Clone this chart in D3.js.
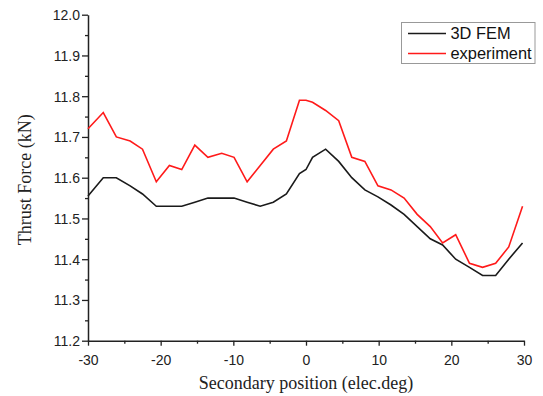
<!DOCTYPE html>
<html><head><meta charset="utf-8">
<script src="https://cdn.jsdelivr.net/npm/d3@7"></script>
<style>body{margin:0;background:#fff}svg{display:block}</style>
</head><body>
<svg id="c" width="543" height="396"></svg>
<script>
const positions = [-30, -27.9, -26.1, -24.2, -22.5, -20.6, -18.8, -17.1, -15.3, -13.5, -11.6, -9.9, -8.1, -6.3, -4.5, -2.7, -0.9, 0, 0.9, 2.7, 4.5, 6.3, 8.1, 9.9, 11.7, 13.5, 15.3, 17.1, 18.8, 20.6, 22.5, 24.3, 26.1, 27.9, 29.8];
const femValues = [11.555, 11.60, 11.60, 11.58, 11.56, 11.53, 11.53, 11.53, 11.54, 11.55, 11.55, 11.55, 11.54, 11.53, 11.54, 11.56, 11.61, 11.62, 11.65, 11.67, 11.64, 11.60, 11.57, 11.553, 11.533, 11.51, 11.48, 11.45, 11.435, 11.40, 11.38, 11.36, 11.36, 11.40, 11.44];
const expValues = [11.72, 11.76, 11.70, 11.69, 11.67, 11.59, 11.63, 11.62, 11.68, 11.65, 11.66, 11.65, 11.59, 11.63, 11.67, 11.69, 11.79, 11.79, 11.785, 11.765, 11.74, 11.65, 11.64, 11.58, 11.57, 11.55, 11.51, 11.48, 11.44, 11.46, 11.39, 11.38, 11.39, 11.43, 11.53];
const xTicks = [-30, -20, -10, 0, 10, 20, 30];
const xTickLabels = ["-30", "-20", "-10", "0", "10", "20", "30"];
const yTicks = [11.2, 11.3, 11.4, 11.5, 11.6, 11.7, 11.8, 11.9, 12.0];
const yTickLabels = ["11.2", "11.3", "11.4", "11.5", "11.6", "11.7", "11.8", "11.9", "12.0"];
const seriesNames = ["3D FEM", "experiment"];
const seriesColors = ["#1a1a1a", "#ff1a1a"];

const svg = d3.select("#c");
const L = 88, R = 524, T = 14.7, B = 340.7;
const x = d3.scaleLinear().domain([-30, 30]).range([L, R]);
const y = d3.scaleLinear().domain([11.2, 12.0]).range([B, T]);
const axisColor = "#222";

const xMinor = [-25, -15, -5, 5, 15, 25];
const yMinor = [11.25, 11.35, 11.45, 11.55, 11.65, 11.75, 11.85, 11.95];

const gx = svg.append("g").attr("transform", `translate(0,${B})`)
  .call(d3.axisBottom(x).tickValues(xTicks).tickFormat((d, i) => xTickLabels[i]).tickSize(5).tickSizeOuter(0));
svg.append("g").attr("transform", `translate(0,${B})`)
  .call(d3.axisBottom(x).tickValues(xMinor).tickFormat("").tickSize(3).tickSizeOuter(0))
  .call(g => g.select(".domain").remove());

const gy = svg.append("g").attr("transform", `translate(${L},0)`)
  .call(d3.axisLeft(y).tickValues(yTicks).tickFormat((d, i) => yTickLabels[i]).tickSize(6).tickSizeOuter(0));
svg.append("g").attr("transform", `translate(${L},0)`)
  .call(d3.axisLeft(y).tickValues(yMinor).tickFormat("").tickSize(3).tickSizeOuter(0))
  .call(g => g.select(".domain").remove());

svg.selectAll(".domain").attr("stroke", axisColor).attr("stroke-width", 1.5);
svg.selectAll(".tick line").attr("stroke", axisColor).attr("stroke-width", 1.3);
svg.selectAll(".tick text").attr("fill", "#222")
  .style("font-family", "'Liberation Sans', Arial, sans-serif").style("font-size", "14px");
gx.selectAll(".tick text").attr("dy", null).attr("y", 24);
gy.selectAll(".tick text").attr("x", -8).attr("dy", "0.36em");

const line = d3.line().x(d => x(d[0])).y(d => y(d[1]));
[femValues, expValues].forEach((vals, i) => {
  svg.append("path")
    .datum(positions.map((p, j) => [p, vals[j]]))
    .attr("d", line).attr("fill", "none")
    .attr("stroke", seriesColors[i]).attr("stroke-width", 1.6)
    .attr("stroke-linejoin", "miter");
});

svg.append("text").attr("x", (L + R) / 2).attr("y", 388.5).attr("text-anchor", "middle")
  .style("font-family", "'Liberation Serif', 'Times New Roman', serif").style("font-size", "18px")
  .attr("fill", "#222").text("Secondary position (elec.deg)");
svg.append("text").attr("transform", `translate(31,${(T + B) / 2 + 2}) rotate(-90)`).attr("text-anchor", "middle")
  .style("font-family", "'Liberation Serif', 'Times New Roman', serif").style("font-size", "18px")
  .attr("fill", "#222").text("Thrust Force (kN)");

const lg = svg.append("g");
lg.append("rect").attr("x", 401.5).attr("y", 22.5).attr("width", 133.5).attr("height", 41)
  .attr("fill", "#fff").attr("stroke", "#999").attr("stroke-width", 1);
seriesNames.forEach((n, i) => {
  const yy = 33.5 + i * 20;
  lg.append("line").attr("x1", 408).attr("x2", 446).attr("y1", yy).attr("y2", yy)
    .attr("stroke", seriesColors[i]).attr("stroke-width", 1.6);
  lg.append("text").attr("x", 450.5).attr("y", yy + 5.8)
    .style("font-family", "'Liberation Sans', Arial, sans-serif").style("font-size", "16.4px")
    .attr("fill", "#111").text(n);
});
</script>
</body></html>
